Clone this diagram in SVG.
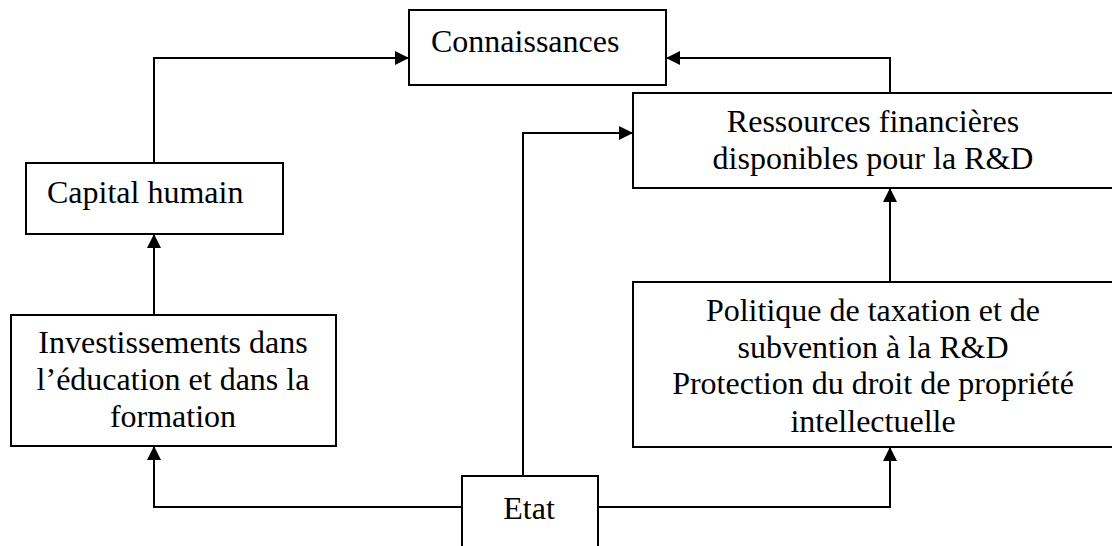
<svg xmlns="http://www.w3.org/2000/svg" width="1112" height="546" viewBox="0 0 1112 546">
<style>
.box{fill:#fff;stroke:#000;stroke-width:2}
.t{font-family:'Liberation Serif','Times New Roman',serif;font-size:32px;fill:#000}
.c{text-anchor:middle}
.ln{fill:none;stroke:#000;stroke-width:2}
</style>
<defs>
<marker id="ah" viewBox="0 0 10 10" refX="10" refY="5" markerWidth="14" markerHeight="15" markerUnits="userSpaceOnUse" orient="auto">
<path d="M0,0 L10,5 L0,10 z" fill="#000"/>
</marker>
</defs>
<g id="connectors">
<path class="ln" d="M154,163 V58 H409" marker-end="url(#ah)"/>
<path class="ln" d="M890,93 V58 H666" marker-end="url(#ah)"/>
<path class="ln" d="M154,314 V234" marker-end="url(#ah)"/>
<path class="ln" d="M890,282 V188" marker-end="url(#ah)"/>
<path class="ln" d="M462,507 H154 V446" marker-end="url(#ah)"/>
<path class="ln" d="M598,507 H890 V447" marker-end="url(#ah)"/>
<path class="ln" d="M523,476 V133 H633" marker-end="url(#ah)"/>
</g>
<g id="connaissances">
<rect class="box" x="409" y="10" width="257" height="75"/>
<text class="t" x="431" y="52">Connaissances</text>
</g>
<g id="capital">
<rect class="box" x="26" y="163" width="257" height="71"/>
<text class="t" x="47" y="203">Capital humain</text>
</g>
<g id="investissements">
<rect class="box" x="11" y="315" width="325" height="131"/>
<text class="t c" x="173" y="353">Investissements dans</text>
<text class="t c" x="173" y="390">l’éducation et dans la</text>
<text class="t c" x="173" y="427">formation</text>
</g>
<g id="ressources">
<rect class="box" x="633" y="93" width="484" height="95"/>
<text class="t c" x="873" y="132">Ressources financières</text>
<text class="t c" x="873" y="169">disponibles pour la R&amp;D</text>
</g>
<g id="politique">
<rect class="box" x="633" y="282" width="484" height="165"/>
<text class="t c" x="873" y="321">Politique de taxation et de</text>
<text class="t c" x="873" y="358">subvention à la R&amp;D</text>
<text class="t c" x="873" y="394">Protection du droit de propriété</text>
<text class="t c" x="873" y="432">intellectuelle</text>
</g>
<g id="etat">
<path class="box" d="M462,548 V476 H598 V548"/>
<text class="t c" x="529" y="519">Etat</text>
</g>
</svg>
